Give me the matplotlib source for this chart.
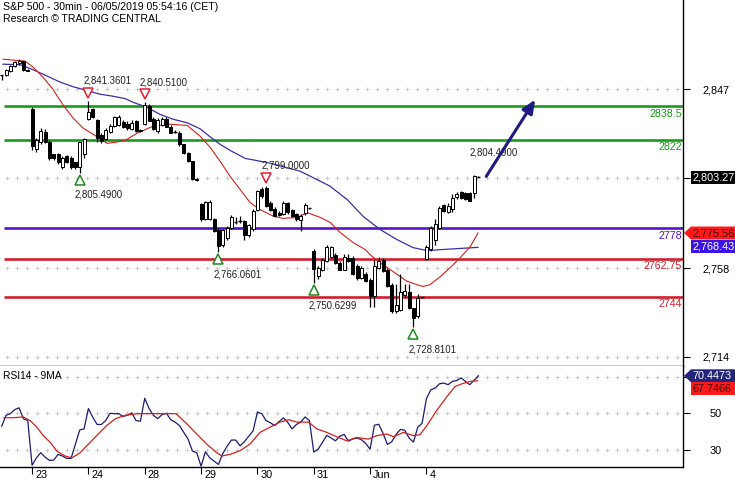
import matplotlib
matplotlib.use('Agg')
import matplotlib.pyplot as plt
import numpy as np
from matplotlib.patches import Rectangle, Polygon
import matplotlib.transforms as mtransforms

plt.rcParams['font.family'] = ['Liberation Sans', 'DejaVu Sans']

# ---------------- data (30-min bars, May 22 tail .. Jun 4) ----------------
opens = [2854, 2854, 2856, 2858.5, 2860, 2861, 2856.5,
         2837, 2817.5, 2821, 2825.5, 2821, 2814.6, 2814.6, 2808.5, 2813.6, 2813, 2810.6, 2808.2, 2814.6,
         2832, 2837, 2831.5, 2824, 2822.4, 2825.6, 2828.7, 2829, 2830.7, 2829.5, 2827, 2831, 2826.5,
         2829.6, 2838.7, 2832.4, 2826, 2829, 2832, 2828.4, 2825.4, 2825.4, 2819.6, 2815.5, 2811.3, 2802,
         2790, 2782.3, 2782.5, 2782.3, 2777.3, 2769.5, 2773, 2778, 2781, 2781.5, 2781.5, 2774.5, 2777.5,
         2787.2, 2797.2, 2798, 2790.5, 2787.5, 2785.5, 2785, 2790.5, 2787, 2785, 2782, 2785.6, 2788,
         2766.5, 2754, 2757.4, 2761.5, 2763.5, 2764.8, 2760.7, 2757.4, 2763, 2763.2, 2759, 2753, 2755,
         2752.4, 2744.1, 2758.2, 2762.3, 2757.4, 2749.9, 2736.6, 2737.4, 2745, 2746.5, 2738.3, 2734.2, 2743.5,
         2762.7, 2767.5, 2772, 2778.2, 2789.7, 2786, 2787.6, 2793.5, 2795.9, 2795.5, 2795.6, 2795.6, 2803.5]
highs = [2854.2, 2857, 2859, 2861, 2862, 2861.5, 2857,
         2838, 2823, 2827.6, 2827, 2822, 2815, 2815.5, 2814, 2814.5, 2814, 2811, 2821, 2822.6,
         2841.36, 2837.5, 2832, 2825, 2827.5, 2829.5, 2833.5, 2834, 2831.5, 2831, 2831.5, 2831.5, 2827,
         2840.51, 2839.5, 2833, 2832.5, 2833, 2833, 2829, 2826.5, 2826, 2820, 2816, 2811.5, 2803,
         2790.5, 2791.5, 2792, 2783, 2778, 2777.5, 2779, 2784.5, 2783.5, 2784, 2782, 2780, 2787.5,
         2797, 2798.5, 2799.0, 2791.5, 2788.5, 2786.5, 2791.5, 2791, 2787.5, 2785.5, 2785, 2790.6, 2788.2,
         2767.5, 2759, 2763, 2769.5, 2769, 2765.5, 2761.5, 2765, 2765, 2764, 2760, 2759, 2756,
         2753, 2762, 2763.7, 2763, 2758, 2750.5, 2750, 2755, 2750, 2750, 2738.5, 2745.5, 2744,
         2769.5, 2779, 2782.5, 2789, 2790, 2790.5, 2795, 2795.8, 2796.5, 2796, 2796, 2804.49, 2803.8]
lows = [2851.5, 2853.5, 2855.5, 2858, 2859, 2856, 2856,
        2817, 2816, 2820, 2820.5, 2812, 2812, 2810, 2807.5, 2810.5, 2807.5, 2807.5, 2805.49, 2813,
        2831.5, 2832.5, 2821, 2820.5, 2822, 2825, 2828, 2828.5, 2827.5, 2826.5, 2826.5, 2825.5, 2825.5,
        2829, 2831, 2826.5, 2825, 2828.5, 2828, 2825, 2825, 2819, 2815, 2811, 2802, 2801.5,
        2781.5, 2782, 2782, 2776, 2766.06, 2768.5, 2772, 2777.5, 2780, 2780.5, 2772, 2773.5, 2776.5,
        2786.5, 2793, 2788.5, 2786.5, 2783.5, 2784, 2784.5, 2785, 2783.5, 2781.5, 2776.5, 2784.5, 2787.5,
        2750.63, 2752.5, 2756.5, 2761, 2763, 2760, 2757, 2757, 2761, 2754.5, 2752, 2752.5, 2751,
        2739, 2739, 2757.5, 2756, 2748.5, 2736, 2736, 2737, 2744, 2738, 2728.81, 2733.5, 2743.3,
        2762.3, 2766.5, 2769.5, 2777.5, 2786, 2785.5, 2786, 2792.5, 2792.5, 2792, 2791.3, 2793, 2803.2]
closes = [2853.9, 2856.5, 2858.5, 2860.5, 2861, 2856.5, 2856,
          2819, 2822, 2826, 2821, 2812.6, 2812.6, 2810.6, 2813, 2811, 2808.2, 2808.2, 2820.6, 2822.1,
          2835.5, 2833, 2823, 2821.3, 2826.7, 2828.6, 2833, 2833, 2828.4, 2827.5, 2830, 2826, 2826,
          2839, 2831.2, 2827.4, 2831.5, 2832, 2828.4, 2825.4, 2825.6, 2819.6, 2815.5, 2811.3, 2802.2, 2802.6,
          2782.3, 2791, 2791.2, 2776.5, 2769, 2777, 2778, 2783.5, 2781.3, 2781.8, 2774.5, 2779.5, 2786.5,
          2796.4, 2793.9, 2789, 2787, 2784, 2784.5, 2790.5, 2786, 2784, 2782.5, 2784, 2789.7, 2787.6,
          2757.5, 2758.2, 2762.3, 2768.7, 2768.5, 2760.7, 2757.4, 2763.5, 2761.5, 2755, 2753, 2758, 2751.5,
          2744.1, 2759, 2761.5, 2756.5, 2749, 2736.6, 2740, 2746.5, 2747, 2738.3, 2733.3, 2743.3, 2743.8,
          2768.7, 2778.2, 2780, 2788.1, 2786.5, 2789, 2793.1, 2795, 2793.1, 2792.5, 2791.6, 2803.8, 2803.27]

# moving averages (bar position, value)
red_ma_x = [0.3, 5.4, 7.2, 9.5, 11.8, 14.2, 16.5, 18.8, 21.1, 22.7, 24.3, 26.2, 28.5, 31.2, 34.9, 38.8,
            42.8, 45.8, 48.1, 50.4, 52.7, 55.0, 57.3, 59.6, 62.6, 64.9, 68.2, 70.5, 73.5, 75.8, 78.1,
            81.1, 83.9, 85.0, 87.3, 90.3, 93.5, 95.8, 97.2, 98.8, 101.2, 103.5, 105.8, 108.1, 109.9]
red_ma = [2861.9, 2860.9, 2858.0, 2853.0, 2847.0, 2839.0, 2832.6, 2827.6, 2824.6, 2822.3, 2820.1, 2820.6,
          2821.6, 2825.1, 2828.6, 2829.6, 2829.0, 2823.6, 2818.1, 2811.1, 2803.7, 2797.2, 2790.7, 2787.2,
          2784.0, 2782.8, 2783.3, 2785.7, 2783.3, 2780.8, 2775.8, 2770.8, 2767.3, 2764.8, 2760.8, 2756.4,
          2751.6, 2749.9, 2749.0, 2749.9, 2753.9, 2758.4, 2763.3, 2768.8, 2775.56]
blue_ma_x = [0.3, 4.2, 7.2, 10.5, 13.5, 16.5, 19.7, 22.7, 25.7, 28.5, 30.3, 33.5, 36.5, 39.5, 42.8, 45.8,
             48.1, 50.4, 52.7, 56.2, 61.2, 64.2, 68.8, 71.8, 75.7, 79.7, 83.4, 87.3, 91.2, 94.9, 98.2,
             101.2, 105.1, 109.9]
blue_ma = [2859.4, 2859.2, 2856.7, 2853.5, 2850.5, 2848.2, 2846.3, 2844.5, 2843.5, 2842.3, 2840.5, 2838.0,
           2834.5, 2832.1, 2830.3, 2827.3, 2823.3, 2819.6, 2816.6, 2812.6, 2810.6, 2808.9, 2806.3, 2803.1,
           2798.9, 2792.2, 2783.8, 2777.3, 2772.3, 2768.3, 2766.8, 2767.3, 2767.8, 2768.43]

rsi = [43, 48.9, 49.8, 52, 53, 47, 46.1,
       21.7, 25.7, 28.5, 26.1, 24.3, 24.5, 27.6, 26.7, 25.4, 25.4, 33.2, 40.9, 41.5,
       52.6, 47.9, 43.9, 43.9, 46.1, 50, 49.8, 49.8, 48.3, 48.9, 50.2, 46, 45.7,
       58.2, 52.6, 48.9, 47.1, 49.3, 50, 46.5, 45.2, 43.3, 39.6, 35.9, 29.4, 28.5,
       21.1, 29, 25.7, 23.9, 22.1, 28, 32, 35.4, 35.4, 32.2, 34.5, 37.5, 40.4,
       50.7, 49.8, 46, 44.8, 43.3, 45.5, 47.5, 45, 41.5, 43.9, 45.2, 48, 46,
       28.9, 30.4, 34.1, 38, 36.5, 35, 37.5, 38.5, 34.8, 36, 36.5, 35.6, 33.5,
       30.4, 43.5, 44, 39, 33, 34.5, 38.5, 41.2, 40.7, 36.5, 34.3, 42.4, 44.6,
       58, 62.8, 63.7, 66.1, 66.5, 65.6, 67.4, 67.9, 69.3, 67.4, 65.6, 68, 70.4473]
rsi_ma_x = [0.5, 2.7, 5.0, 6.5, 8.1, 9.6, 11.2, 12.7, 14.6, 16.2, 18.1, 20.0, 21.9, 24.2, 26.2, 28.5,
            31.2, 34.2, 37.3, 40.2, 42.7, 45.0, 47.3, 49.6, 50.8, 52.7, 55.0, 57.3, 59.6, 61.9, 64.2,
            66.2, 68.1, 70.8, 72.7, 75.0, 77.3, 79.6, 81.9, 84.6, 86.5, 88.9, 90.4, 92.7, 95.0, 96.5,
            98.1, 100.4, 102.7, 104.6, 106.2, 108.1, 109.8]
rsi_ma = [47.6, 47.6, 48, 46.1, 42.4, 37.8, 34.1, 29.4, 26.7, 25.7, 28.5, 33.2, 37.8, 43.3, 47, 48.9,
          49.8, 49.8, 49.8, 49.8, 44.3, 38.7, 33.2, 28.5, 26.7, 27.6, 29.6, 33.2, 39.6, 42.4, 45.2,
          46.5, 45.2, 45.2, 41.5, 39.6, 37.2, 35, 36.8, 35.9, 37.8, 38.7, 37.2, 39.6, 37.8, 38.3,
          43.3, 51.7, 59, 64.6, 66.1, 67.4, 67.7466]

day_start = [7, 20, 33, 46, 59, 72, 85, 98]
day_labels = ['23', '24', '28', '29', '30', '31', 'Jun', '4']

price_ticks = [2714, 2758, 2803, 2847]
price_tick_labels = ['2,714', '2,758', '', '2,847']   # 2,803 is hidden behind the last-price box
rsi_ticks = [30, 50, 70]
rsi_tick_labels = ['30', '50', '']                    # 70 is hidden behind the RSI value box

levels = [2838.5, 2822, 2778, 2762.75, 2744]
level_labels = ['2838.5', '2822', '2778', '2762.75', '2744']
level_colors = ['#1a9a1a', '#1a9a1a', '#5514c8', '#d0202e', '#d0202e']

pivot_idx = [20, 33, 18, 61, 50, 72, 95]
pivot_price = [2841.3601, 2840.51, 2805.49, 2799.0, 2766.0601, 2750.6299, 2728.8101]
pivot_kind = ['high', 'high', 'low', 'high', 'low', 'low', 'low']
pivot_text = ['2,841.3601', '2,840.5100', '2,805.4900', '2,799.0000', '2,766.0601', '2,750.6299', '2,728.8101']
pending_idx, pending_price, pending_text = 109, 2804.49, '2,804.4900'

arrow_start = (111.8, 2803.7)
arrow_end = (123.1, 2841.8)

last_close_label = '2,803.27'
red_ma_label = '2,775.56'
blue_ma_label = '2,768.43'
rsi_label = '70.4473'
rsi_ma_label = '67.7466'

# ---------------- figure ----------------
W, H = 735, 480
fig = plt.figure(figsize=(W / 100, H / 100), dpi=100)
fig.patch.set_facecolor('white')

main_top, main_bot, rsi_bot, right_px = 0, 366, 467, 683
ax = fig.add_axes([0, 1 - main_bot / H, right_px / W, (main_bot - main_top) / H])
axr = fig.add_axes([0, 1 - rsi_bot / H, right_px / W, (rsi_bot - main_bot) / H])

XMIN, XMAX = -0.4, 157.2
for a in (ax, axr):
    a.set_xlim(XMIN, XMAX)
    a.set_facecolor('white')
    for s in ('top', 'left'):
        a.spines[s].set_visible(False)
    a.spines['right'].set_color('black')
    a.spines['bottom'].set_color('black')
    a.spines['right'].set_linewidth(1.0)
    a.spines['bottom'].set_linewidth(1.0)
ax.set_ylim(2709.5, 2891.3)
axr.set_ylim(20.7, 75.8)

# grid of small crosses
step = 10 / 4.333
gx = np.arange(XMIN + 1.5, XMAX, step)
for lv in price_ticks:
    ax.plot(gx, [lv] * len(gx), ls='none', marker='+', ms=3.2, mew=0.6, color='#c4c4c4', zorder=0)
for lv in rsi_ticks:
    axr.plot(gx, [lv] * len(gx), ls='none', marker='+', ms=3.2, mew=0.6, color='#c4c4c4', zorder=0)

# level lines
for lv, lab, col in zip(levels, level_labels, level_colors):
    ax.hlines(lv, 0.55, XMAX, color=col, lw=1.9, zorder=2)
    ax.annotate(lab, xy=(1.0, lv), xycoords=('axes fraction', 'data'), xytext=(-1, -7.5),
                textcoords='offset pixels', ha='right', va='center', color=col, fontsize=7.7, zorder=5)

# moving averages
ax.plot(blue_ma_x, blue_ma, color='#3b2fa8', lw=0.9, zorder=3)
ax.plot(red_ma_x, red_ma, color='#d42020', lw=0.8, zorder=3)

# candles
for i, (o, h, l, c) in enumerate(zip(opens, highs, lows, closes)):
    ax.vlines(i, l, h, color='black', lw=0.9, zorder=4)
    bottom = min(o, c)
    height = abs(c - o)
    if height < 0.5:
        ax.hlines((o + c) / 2, i - 0.4, i + 0.4, color='black', lw=1.0, zorder=5)
    else:
        ax.add_patch(Rectangle((i - 0.36, bottom), 0.72, height,
                               facecolor='white' if c >= o else 'black',
                               edgecolor='black', lw=0.7, zorder=5))

# pivots
px = lambda dx, dy: mtransforms.offset_copy(ax.transData, fig=fig, x=dx, y=dy, units='dots')
for idx, pr, kind, txt in zip(pivot_idx, pivot_price, pivot_kind, pivot_text):
    if kind == 'high':
        ax.plot([idx], [pr], marker='v', ms=7.5, mfc='white', mec='#e02030', mew=1.1,
                transform=px(0, 8), zorder=6)
        ax.annotate(txt, xy=(idx, pr), xytext=(-5, 20), textcoords='offset pixels',
                    ha='left', va='center', fontsize=6.9, color='#202020', zorder=6)
    else:
        ax.plot([idx], [pr], marker='^', ms=7.5, mfc='white', mec='#1a8a1a', mew=1.1,
                transform=px(0, -7), zorder=6)
        ax.annotate(txt, xy=(idx, pr), xytext=(-5, -22), textcoords='offset pixels',
                    ha='left', va='center', fontsize=6.9, color='#202020', zorder=6)
ax.annotate(pending_text, xy=(pending_idx, pending_price), xytext=(-5, 22), textcoords='offset pixels',
            ha='left', va='center', fontsize=6.9, color='#202020', zorder=6)

# projection arrow
ax.annotate('', xy=arrow_end, xytext=arrow_start,
            arrowprops=dict(arrowstyle='-|>,head_length=0.8,head_width=0.35', lw=2.2,
                            color='#201a80', shrinkA=0, shrinkB=0), zorder=7)

# right axis ticks
ax.yaxis.tick_right()
ax.set_yticks(price_ticks)
ax.set_yticklabels(price_tick_labels)
ax.tick_params(axis='y', direction='out', length=5, width=0.8, pad=9, labelsize=7.8, colors='black')
ax.set_xticks([])
axr.yaxis.tick_right()
axr.set_yticks(rsi_ticks)
axr.set_yticklabels(rsi_tick_labels)
axr.tick_params(axis='y', direction='out', length=5, width=0.8, pad=14, labelsize=7.8)
axr.set_xticks(day_start)
axr.set_xticklabels([])
axr.tick_params(axis='x', direction='out', length=5, width=0.8)
for d, lab in zip(day_start, day_labels):
    axr.annotate(lab, xy=(d, 0), xycoords=('data', 'axes fraction'), xytext=(3, -7.5),
                 textcoords='offset pixels', ha='left', va='center', fontsize=7.8)

# RSI panel
axr.plot(range(len(rsi)), rsi, color='#1c1c70', lw=0.9, zorder=3)
axr.plot(rsi_ma_x, rsi_ma, color='#d42020', lw=0.9, zorder=3)
axr.text(0.004, 0.90, 'RSI14 - 9MA', transform=axr.transAxes, fontsize=7.4, va='center', ha='left')

# header
fig.text(3 / W, 1 - 7 / H, 'S&P 500 - 30min - 06/05/2019 05:54:16 (CET)', fontsize=7.6, va='center', ha='left')
fig.text(3 / W, 1 - 19.5 / H, 'Research \u00a9 TRADING CENTRAL', fontsize=7.6, va='center', ha='left')

# value boxes on right axis (overlay in pixel space)
ov = fig.add_axes([0, 0, 1, 1], facecolor='none')
ov.set_xlim(0, W)
ov.set_ylim(0, H)
ov.axis('off')


def ypix(a, v):
    return a.transData.transform((0, v))[1]


def box(yc, text, fc, tc, arrow=False, hh=6.5):
    x0, x1 = 691, 737
    if arrow:
        pts = [(684, yc), (x0, yc + hh), (x1, yc + hh), (x1, yc - hh), (x0, yc - hh)]
    else:
        pts = [(x0, yc + hh), (x1, yc + hh), (x1, yc - hh), (x0, yc - hh)]
    ov.add_patch(Polygon(pts, closed=True, facecolor=fc, edgecolor='none', zorder=10))
    ov.text(x0 + 2, yc, text, color=tc, fontsize=7.8, va='center', ha='left', zorder=11)


box(ypix(ax, closes[-1]), last_close_label, 'black', 'white')
yr = ypix(ax, red_ma[-1])
box(yr, red_ma_label, '#ff1a1a', '#3a0000', arrow=True)
box(yr - 13, blue_ma_label, '#3c14e8', 'white')
yrsi = ypix(axr, rsi[-1])
box(yrsi, rsi_label, '#24247a', 'white', arrow=True)
box(yrsi - 13, rsi_ma_label, '#ff1a1a', '#3a0000')

fig.savefig('out.png', dpi=100, facecolor='white')
